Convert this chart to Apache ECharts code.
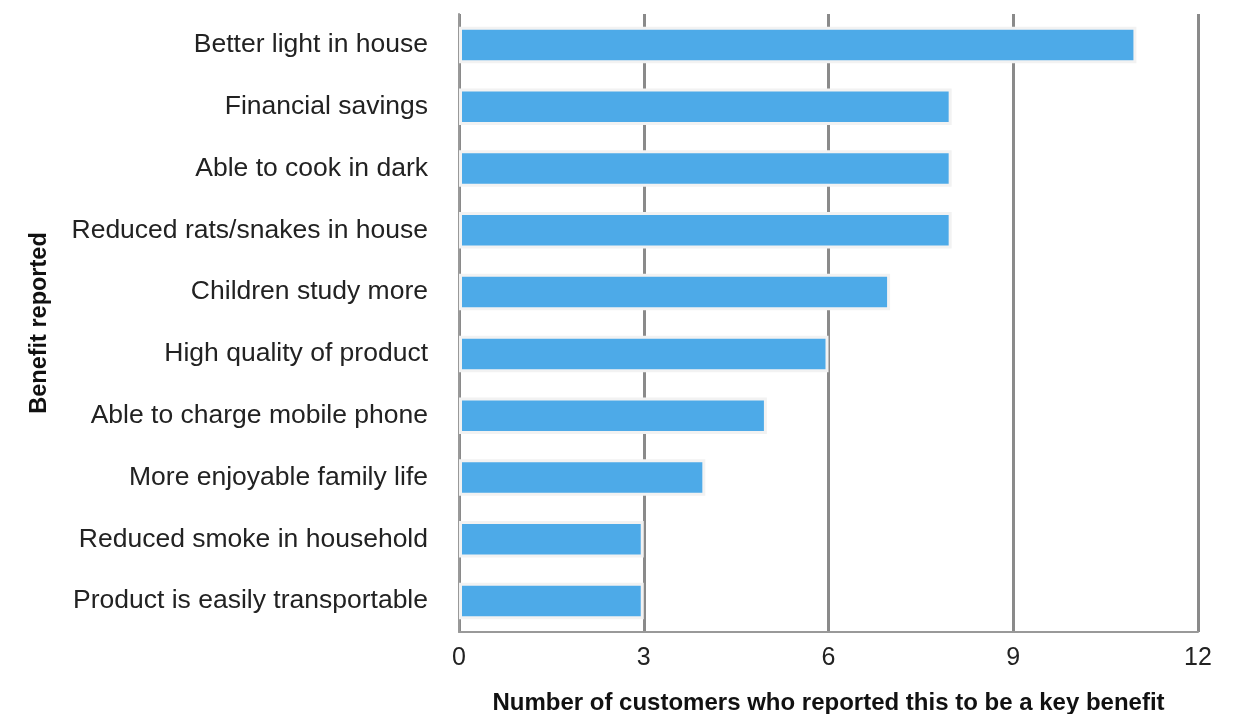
<!DOCTYPE html>
<html>
<head>
<meta charset="utf-8">
<script src="https://cdn.jsdelivr.net/npm/echarts@6/dist/echarts.min.js"></script>
<style>
  html, body { margin: 0; padding: 0; background: #fff; }
  #chart { width: 1238px; height: 714px; }
</style>
</head>
<body>
<div id="chart"></div>
<script>
// benefits, listed bottom to top as ECharts draws a category y axis
var benefits = [
    'Product is easily transportable',
    'Reduced smoke in household',
    'More enjoyable family life',
    'Able to charge mobile phone',
    'High quality of product',
    'Children study more',
    'Reduced rats/snakes in house',
    'Able to cook in dark',
    'Financial savings',
    'Better light in house'
];
var customers = [3, 3, 4, 5, 6, 7, 8, 8, 8, 11];
var xTicks = [0, 3, 6, 9, 12];

var myChart = echarts.init(document.getElementById('chart'));

var option = {
    backgroundColor: '#fff',
    textStyle: { fontFamily: 'Liberation Sans' },
    grid: {
        left: 459,
        right: 40,
        top: 14,
        bottom: 82,
        outerBoundsMode: 'none'
    },
    xAxis: {
        type: 'value',
        min: xTicks[0],
        max: xTicks[xTicks.length - 1],
        interval: 3,
        name: 'Number of customers who reported this to be a key benefit',
        nameLocation: 'middle',
        nameGap: 59,
        nameTextStyle: { fontSize: 24, fontWeight: 'bold', color: '#111' },
        axisLine: { show: true, lineStyle: { color: '#999', width: 2 } },
        axisTick: { show: false },
        axisLabel: { fontSize: 25, color: '#222', margin: 14 },
        splitLine: { show: true, lineStyle: { color: '#8a8a8a', width: 3 } }
    },
    yAxis: {
        type: 'category',
        data: benefits,
        name: 'Benefit reported',
        nameLocation: 'middle',
        nameGap: 407,
        nameRotate: 90,
        nameTextStyle: { fontSize: 23.5, fontWeight: 'bold', color: '#111' },
        axisLine: { show: true, lineStyle: { color: '#999', width: 2 } },
        axisTick: { show: false },
        axisLabel: { fontSize: 26.5, color: '#222', margin: 31, padding: [4, 0, 0, 0] },
        splitLine: { show: false }
    },
    series: [{
        type: 'bar',
        data: customers,
        barCategoryGap: '41%',
        itemStyle: {
            color: '#4DAAE8',
            borderColor: '#f2f2f2',
            borderWidth: 3
        }
    }]
};
myChart.setOption(option);
</script>
</body>
</html>
